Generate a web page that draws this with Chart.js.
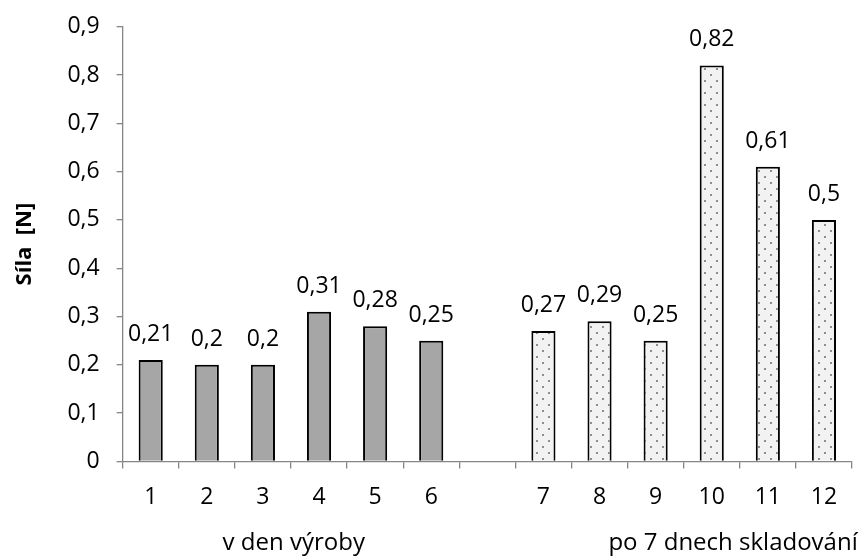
<!DOCTYPE html>
<html>
<head>
<meta charset="utf-8">
<script src="https://cdn.jsdelivr.net/npm/chart.js@4/dist/chart.umd.min.js"></script>
<style>
  html, body { margin: 0; padding: 0; background: #ffffff; }
  #silaChartDiv { width: 868px; height: 556px; }
</style>
</head>
<body>
<div id="silaChartDiv"><canvas id="silaChart" width="868" height="556"></canvas></div>
<script>

// vzorky 1-6 v den vyroby, prazdna pozice jako mezera, 7-12 po 7 dnech
var categories  = ['1', '2', '3', '4', '5', '6', '', '7', '8', '9', '10', '11', '12'];
var silaValues  = [0.21, 0.2, 0.2, 0.31, 0.28, 0.25, null, 0.27, 0.29, 0.25, 0.82, 0.61, 0.5];
var sampleGroup = [0, 0, 0, 0, 0, 0, -1, 1, 1, 1, 1, 1, 1];
var groupLabels = ['v den výroby', 'po 7 dnech skladování'];
var yTickLabels = ['0', '0,1', '0,2', '0,3', '0,4', '0,5', '0,6', '0,7', '0,8', '0,9'];
var yTitle      = 'Síla  [N]';

var FONT = "'Open Sans', sans-serif";

function formatComma(v){
    return String(v).replace('.', ',');
}

// teckovany vzor pro sloupce po skladovani
function makeDotPattern(ctx){
    var c = document.createElement('canvas');
    c.width = 12;
    c.height = 12;
    var p = c.getContext('2d');
    p.fillStyle = '#f2f2f2';
    p.fillRect(0, 0, 12, 12);
    p.fillStyle = '#8e8e8e';
    p.fillRect(2, 2, 2, 2);
    p.fillRect(8, 8, 2, 2);
    return ctx.createPattern(c, 'repeat');
}

// hodnoty nad sloupci
var valueLabelsPlugin = {
    id: 'valueLabels',
    afterDatasetsDraw: function(chart){
        var ctx = chart.ctx;
        var meta = chart.getDatasetMeta(0);
        ctx.save();
        ctx.font = '23px ' + FONT;
        ctx.fillStyle = '#000000';
        ctx.textAlign = 'center';
        ctx.textBaseline = 'alphabetic';
        meta.data.forEach(function(bar, i){
            var v = silaValues[i];
            if (v === null) return;
            ctx.fillText(formatComma(v), bar.x, bar.y - 19);
        });
        ctx.restore();
    }
};

// popisky skupin pod osou x
var groupLabelsPlugin = {
    id: 'groupLabels',
    afterDraw: function(chart){
        var ctx = chart.ctx;
        var xs = chart.scales.x;
        var anchors = [2.55, 10.38];
        ctx.save();
        ctx.font = '24px ' + FONT;
        ctx.fillStyle = '#000000';
        ctx.textAlign = 'center';
        ctx.textBaseline = 'alphabetic';
        groupLabels.forEach(function(txt, g){
            ctx.fillText(txt, xs.getPixelForValue(anchors[g]), 550);
        });
        ctx.restore();
    }
};

function initializeSilaChart(){
    var ctx = document.getElementById('silaChart').getContext('2d');
    var dots = makeDotPattern(ctx);

    var myChart = new Chart(ctx, {
        type: 'bar',
        data: {
            labels: categories,
            datasets: [{
                label: yTitle,
                data: silaValues,
                backgroundColor: sampleGroup.map(function(g){ return g === 1 ? dots : '#a6a6a6'; }),
                borderColor: '#000000',
                borderWidth: 2,
                borderSkipped: 'start',
                categoryPercentage: 1.0,
                barPercentage: 0.43
            }]
        },
        options: {
            responsive: false,
            animation: false,
            events: [],
            layout: {
                padding: { left: 12, right: 16, top: 4, bottom: 30 }
            },
            plugins: {
                legend: { display: false },
                tooltip: { enabled: false }
            },
            scales: {
                x: {
                    offset: true,
                    border: { color: '#868686', width: 1.3 },
                    grid: {
                        display: true,
                        offset: true,
                        drawOnChartArea: false,
                        drawTicks: true,
                        tickLength: 7,
                        color: '#868686',
                        lineWidth: 1.3
                    },
                    ticks: {
                        color: '#000000',
                        padding: 15,
                        maxRotation: 0,
                        autoSkip: false,
                        font: { family: FONT, size: 23 }
                    }
                },
                y: {
                    min: 0,
                    max: 0.9,
                    border: { color: '#868686', width: 1.3 },
                    grid: {
                        display: true,
                        drawOnChartArea: false,
                        drawTicks: true,
                        tickLength: 6,
                        color: '#868686',
                        lineWidth: 1.3
                    },
                    ticks: {
                        stepSize: 0.1,
                        color: '#000000',
                        padding: 17,
                        font: { family: FONT, size: 23, lineHeight: 0.85 },
                        callback: function(value, index){
                            return yTickLabels[index];
                        }
                    },
                    title: {
                        display: true,
                        text: yTitle,
                        color: '#000000',
                        padding: { top: 0, bottom: 12 },
                        font: { family: FONT, size: 22, weight: 'bold' }
                    }
                }
            }
        },
        plugins: [valueLabelsPlugin, groupLabelsPlugin]
    });

    myChart.update();
}

initializeSilaChart();
</script>
</body>
</html>
